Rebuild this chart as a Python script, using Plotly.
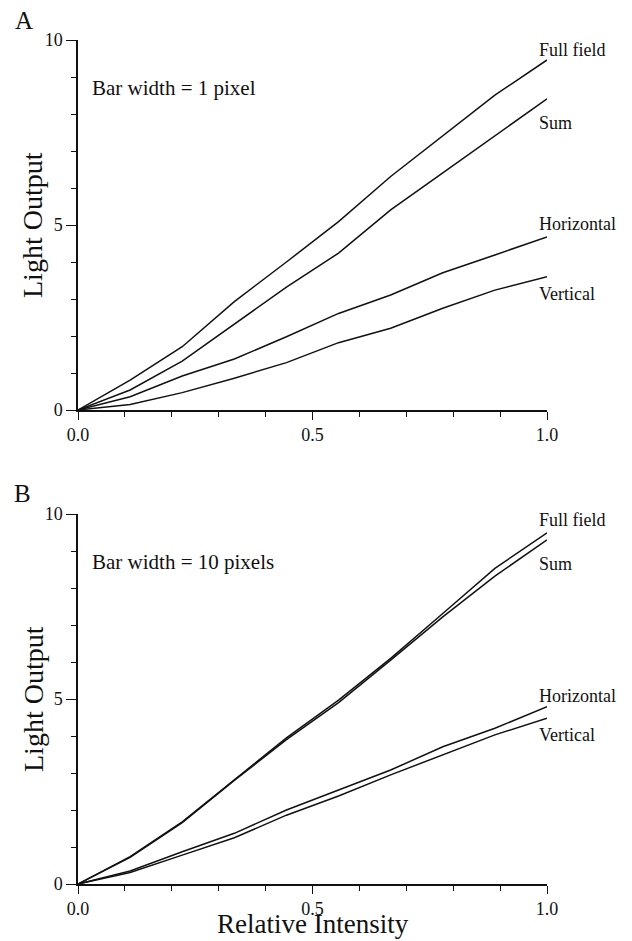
import plotly.graph_objects as go

# Relative stimulus intensity (ten steps from 0 to 1)
intensity = [0, 1/9, 2/9, 3/9, 4/9, 5/9, 6/9, 7/9, 8/9, 1.0]

# Panel A: bar width = 1 pixel
a_full = [0, 0.81, 1.71, 2.93, 4.00, 5.09, 6.31, 7.41, 8.51, 9.46]
a_sum = [0, 0.54, 1.32, 2.33, 3.32, 4.24, 5.41, 6.41, 7.41, 8.41]
a_horizontal = [0, 0.36, 0.92, 1.38, 1.98, 2.61, 3.11, 3.71, 4.19, 4.68]
a_vertical = [0, 0.15, 0.47, 0.86, 1.28, 1.82, 2.21, 2.75, 3.24, 3.60]

# Panel B: bar width = 10 pixels
b_full = [0, 0.74, 1.68, 2.81, 3.95, 4.97, 6.10, 7.31, 8.53, 9.49]
b_sum = [0, 0.72, 1.66, 2.80, 3.90, 4.90, 6.05, 7.22, 8.32, 9.30]
b_horizontal = [0, 0.35, 0.87, 1.37, 2.00, 2.54, 3.08, 3.71, 4.21, 4.79]
b_vertical = [0, 0.31, 0.78, 1.25, 1.86, 2.38, 2.95, 3.49, 4.03, 4.48]

series_names = ["Full field", "Sum", "Horizontal", "Vertical"]
panel_titles = ["Bar width = 1 pixel", "Bar width = 10 pixels"]
panel_letters = ["A", "B"]

W, H = 632, 941
ML, MR, MT, MB = 78, 85, 40, 57
PLOT_H = H - MT - MB
PANEL_H = 370

FONT = "Liberation Serif"
BLACK = "#111111"

fig = go.Figure()

panels = [
    ("x", "y", [a_full, a_sum, a_horizontal, a_vertical]),
    ("x2", "y2", [b_full, b_sum, b_horizontal, b_vertical]),
]
for xa, ya, curves in panels:
    for name, vals in zip(series_names, curves):
        fig.add_trace(go.Scatter(
            x=intensity, y=vals, mode="lines", name=name,
            xaxis=xa, yaxis=ya, showlegend=False,
            line=dict(color=BLACK, width=1.5),
        ))

top_dom = [(PLOT_H - PANEL_H) / PLOT_H, 1.0]
bot_dom = [0.0, PANEL_H / PLOT_H]


def xax(anchor, show_ticklabels=True):
    return dict(
        domain=[0, 1], anchor=anchor, range=[0, 1],
        showgrid=False, zeroline=False,
        showline=True, linecolor=BLACK, linewidth=1.5,
        ticks="outside", ticklen=8, tickwidth=1.2, tickcolor=BLACK,
        dtick=0.5, tick0=0, tickformat=".1f",
        minor=dict(dtick=0.1, ticks="outside", ticklen=5,
                   tickwidth=1, tickcolor=BLACK),
        tickfont=dict(family=FONT, size=18, color=BLACK),
        showticklabels=show_ticklabels, fixedrange=True,
    )


def yax(anchor, domain):
    return dict(
        domain=domain, anchor=anchor, range=[0, 10],
        showgrid=False, zeroline=False,
        showline=True, linecolor=BLACK, linewidth=1.5,
        ticks="outside", ticklen=10, tickwidth=1.2, tickcolor=BLACK,
        dtick=5, tick0=0,
        minor=dict(dtick=1, ticks="outside", ticklen=5,
                   tickwidth=1, tickcolor=BLACK),
        tickfont=dict(family=FONT, size=18, color=BLACK),
        fixedrange=True,
    )


fig.update_layout(
    width=W, height=H,
    margin=dict(l=ML, r=MR, t=MT, b=MB),
    paper_bgcolor="white", plot_bgcolor="white",
    xaxis=xax("y"), yaxis=yax("x", top_dom),
    xaxis2=xax("y2"), yaxis2=yax("x2", bot_dom),
    showlegend=False,
)


def px_to_paper(px, py):
    """Convert page pixel coordinates to paper coordinates."""
    return (px - ML) / (W - ML - MR), (H - MB - py) / PLOT_H


ann = []

# Curve labels beside the line ends
label_pos = {
    ("x", "y"): [9.73, 7.76, 5.03, 3.14],
    ("x2", "y2"): [9.84, 8.65, 5.08, 4.03],
}
for (xa, ya), ys in label_pos.items():
    for name, yv in zip(series_names, ys):
        ann.append(dict(
            x=0.978, y=yv, xref=xa, yref=ya, text=name, showarrow=False,
            xanchor="left", yanchor="middle",
            font=dict(family=FONT, size=18, color=BLACK),
        ))

# Condition text inside each panel
for (xa, ya), title in zip([("x", "y"), ("x2", "y2")], panel_titles):
    ann.append(dict(
        x=0.026, y=8.69, xref=xa, yref=ya, text=title, showarrow=False,
        xanchor="left", yanchor="middle",
        font=dict(family=FONT, size=21, color=BLACK),
    ))

# Panel letters
for letter, (px, py) in zip(panel_letters, [(24, 20), (22, 494)]):
    xp, yp = px_to_paper(px, py)
    ann.append(dict(
        x=xp, y=yp, xref="paper", yref="paper", text=letter, showarrow=False,
        xanchor="center", yanchor="middle",
        font=dict(family=FONT, size=25, color=BLACK),
    ))

# Axis titles
for py in (225, 699):
    xp, yp = px_to_paper(33, py)
    ann.append(dict(
        x=xp, y=yp, xref="paper", yref="paper", text="Light Output",
        showarrow=False, textangle=-90, xanchor="center", yanchor="middle",
        font=dict(family=FONT, size=28, color=BLACK),
    ))
xp, yp = px_to_paper(313, 924)
ann.append(dict(
    x=xp, y=yp, xref="paper", yref="paper", text="Relative Intensity",
    showarrow=False, xanchor="center", yanchor="middle",
    font=dict(family=FONT, size=27, color=BLACK),
))

fig.update_layout(annotations=ann)

fig.write_html("out.html")
